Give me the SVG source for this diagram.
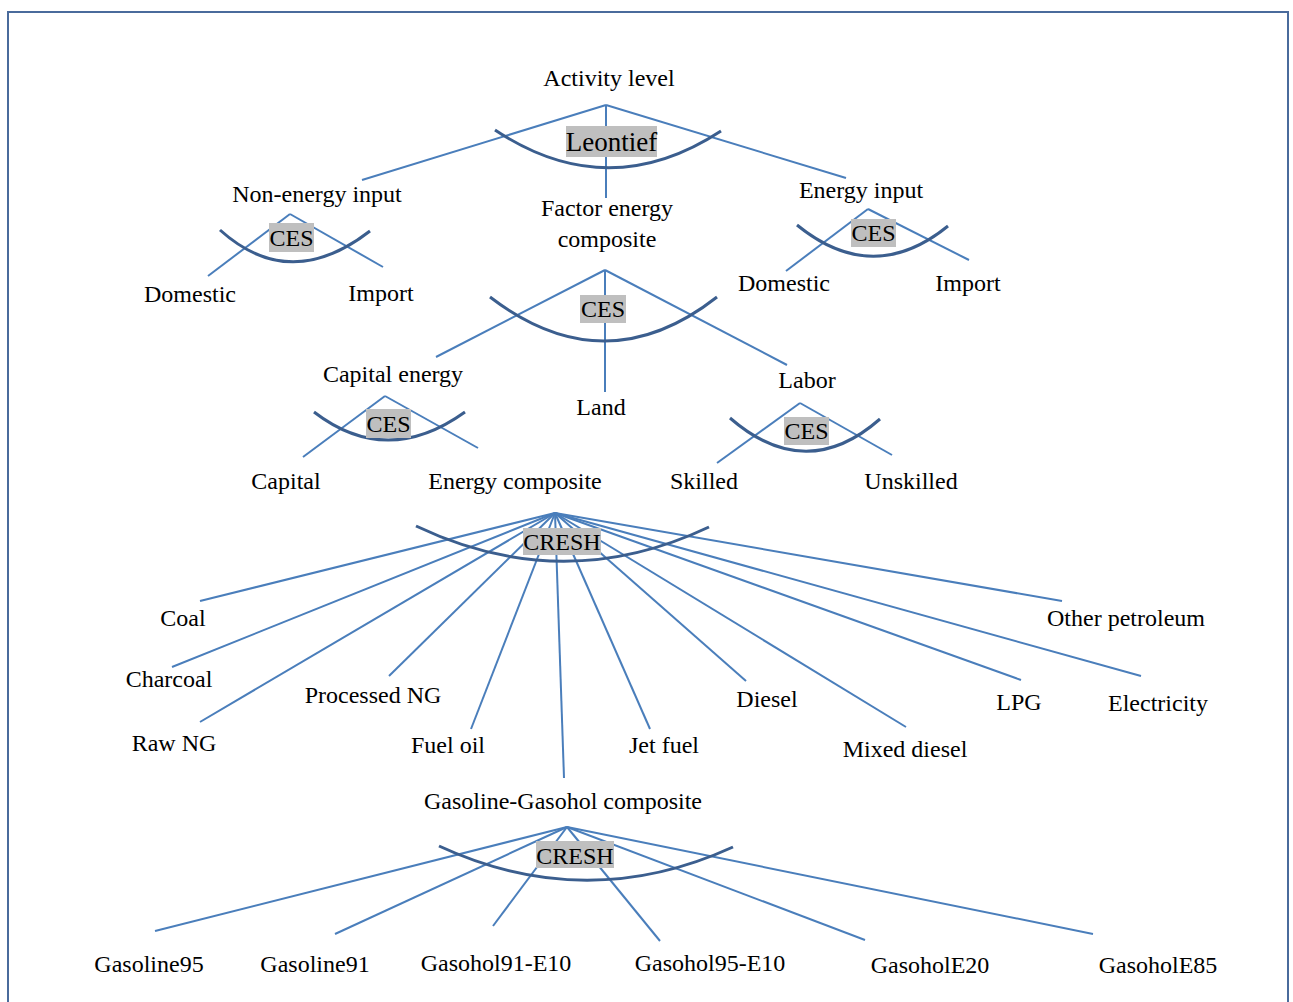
<svg xmlns="http://www.w3.org/2000/svg" width="1293" height="1002" viewBox="0 0 1293 1002">
<style>
.t{font-family:"Liberation Serif","Times New Roman",serif;font-size:24px;fill:#000;text-anchor:middle}
.big{font-size:27px}
.ln{stroke:#4a7ebb;stroke-width:2;fill:none}
.cv{stroke:#3b5e8e;stroke-width:3;fill:none}
.hl{fill:#bfbfbf}
</style>
<rect x="0" y="0" width="1293" height="1002" fill="#fff"/>
<rect x="8" y="12" width="1280" height="1000" fill="none" stroke="#4a6b9c" stroke-width="2"/>

<g id="connectors">
  <!-- Leontief -->
  <line class="ln" x1="606" y1="105" x2="362" y2="180"/>
  <line class="ln" x1="606" y1="105" x2="846" y2="178"/>
  <line class="ln" x1="606" y1="105" x2="606" y2="198"/>
  <!-- Non-energy CES -->
  <line class="ln" x1="290" y1="214" x2="208" y2="276"/>
  <line class="ln" x1="290" y1="214" x2="383" y2="267"/>
  <!-- Energy input CES -->
  <line class="ln" x1="868" y1="209" x2="786" y2="271"/>
  <line class="ln" x1="868" y1="209" x2="969" y2="260"/>
  <!-- Factor energy composite CES -->
  <line class="ln" x1="605" y1="270" x2="436" y2="357"/>
  <line class="ln" x1="605" y1="270" x2="787" y2="365"/>
  <line class="ln" x1="605" y1="270" x2="605" y2="392"/>
  <!-- Capital energy CES -->
  <line class="ln" x1="385" y1="396" x2="303" y2="457"/>
  <line class="ln" x1="385" y1="396" x2="478" y2="448"/>
  <!-- Labor CES -->
  <line class="ln" x1="800" y1="403" x2="717" y2="463"/>
  <line class="ln" x1="800" y1="403" x2="892" y2="455"/>
  <!-- Energy composite CRESH -->
  <line class="ln" x1="555" y1="513" x2="200" y2="601"/>
  <line class="ln" x1="555" y1="513" x2="172" y2="667"/>
  <line class="ln" x1="555" y1="513" x2="200" y2="722"/>
  <line class="ln" x1="555" y1="513" x2="389" y2="676"/>
  <line class="ln" x1="555" y1="513" x2="471" y2="729"/>
  <line class="ln" x1="555" y1="513" x2="564" y2="778"/>
  <line class="ln" x1="555" y1="513" x2="650" y2="729"/>
  <line class="ln" x1="555" y1="513" x2="746" y2="681"/>
  <line class="ln" x1="555" y1="513" x2="906" y2="727"/>
  <line class="ln" x1="555" y1="513" x2="1021" y2="680"/>
  <line class="ln" x1="555" y1="513" x2="1141" y2="676"/>
  <line class="ln" x1="555" y1="513" x2="1062" y2="601"/>
  <!-- Gasoline-Gasohol CRESH -->
  <line class="ln" x1="567" y1="827" x2="155" y2="931"/>
  <line class="ln" x1="567" y1="827" x2="335" y2="934"/>
  <line class="ln" x1="567" y1="827" x2="493" y2="926"/>
  <line class="ln" x1="567" y1="827" x2="660" y2="941"/>
  <line class="ln" x1="567" y1="827" x2="865" y2="940"/>
  <line class="ln" x1="567" y1="827" x2="1093" y2="934"/>
</g>

<g id="activity-level">
  <text class="t" x="609" y="86">Activity level</text>
  <path class="cv" d="M495,130 Q608,205 721,131"/>
  <rect class="hl" x="566" y="126" width="91" height="31"/>
  <text class="t big" x="611.5" y="151">Leontief</text>
</g>

<g id="non-energy-input">
  <text class="t" x="317" y="202">Non-energy input</text>
  <path class="cv" d="M220,230 Q290,293 370,231"/>
  <rect class="hl" x="269" y="223" width="45" height="29"/>
  <text class="t" x="291.5" y="246">CES</text>
</g>
<g id="domestic-1"><text class="t" x="190" y="302">Domestic</text></g>
<g id="import-1"><text class="t" x="381" y="301">Import</text></g>

<g id="factor-energy-composite">
  <text class="t" x="607" y="216">Factor energy</text>
  <text class="t" x="607" y="247">composite</text>
  <path class="cv" d="M490,297 Q605,385 717,297"/>
  <rect class="hl" x="580" y="295" width="46" height="28"/>
  <text class="t" x="603" y="317">CES</text>
</g>

<g id="energy-input">
  <text class="t" x="861" y="198">Energy input</text>
  <path class="cv" d="M797,225 Q873,287 948,226"/>
  <rect class="hl" x="851" y="219" width="45" height="28"/>
  <text class="t" x="873.5" y="241">CES</text>
</g>
<g id="domestic-2"><text class="t" x="784" y="291">Domestic</text></g>
<g id="import-2"><text class="t" x="968" y="291">Import</text></g>

<g id="capital-energy">
  <text class="t" x="393" y="382">Capital energy</text>
  <path class="cv" d="M314,412 Q387,468 465,412"/>
  <rect class="hl" x="366" y="409" width="45" height="29"/>
  <text class="t" x="388.5" y="432">CES</text>
</g>
<g id="land"><text class="t" x="601" y="415">Land</text></g>

<g id="labor">
  <text class="t" x="807" y="388">Labor</text>
  <path class="cv" d="M730,418 Q806,484 880,419"/>
  <rect class="hl" x="784" y="417" width="45" height="28"/>
  <text class="t" x="806.5" y="439">CES</text>
</g>
<g id="capital"><text class="t" x="286" y="489">Capital</text></g>
<g id="skilled"><text class="t" x="704" y="489">Skilled</text></g>
<g id="unskilled"><text class="t" x="911" y="489">Unskilled</text></g>

<g id="energy-composite">
  <text class="t" x="515" y="489">Energy composite</text>
  <path class="cv" d="M416,526 Q563,596 709,527"/>
  <rect class="hl" x="523" y="528" width="78" height="27"/>
  <text class="t" x="562" y="550">CRESH</text>
</g>

<g id="coal"><text class="t" x="183" y="626">Coal</text></g>
<g id="other-petroleum"><text class="t" x="1126" y="626">Other petroleum</text></g>
<g id="charcoal"><text class="t" x="169" y="687">Charcoal</text></g>
<g id="processed-ng"><text class="t" x="373" y="703">Processed NG</text></g>
<g id="diesel"><text class="t" x="767" y="707">Diesel</text></g>
<g id="lpg"><text class="t" x="1019" y="710">LPG</text></g>
<g id="electricity"><text class="t" x="1158" y="711">Electricity</text></g>
<g id="raw-ng"><text class="t" x="174" y="751">Raw NG</text></g>
<g id="fuel-oil"><text class="t" x="448" y="753">Fuel oil</text></g>
<g id="jet-fuel"><text class="t" x="664" y="753">Jet fuel</text></g>
<g id="mixed-diesel"><text class="t" x="905" y="757">Mixed diesel</text></g>

<g id="gasoline-gasohol-composite">
  <text class="t" x="563" y="809">Gasoline-Gasohol composite</text>
  <path class="cv" d="M439,846 Q586,914 733,847"/>
  <rect class="hl" x="536" y="841" width="78" height="27"/>
  <text class="t" x="575" y="864">CRESH</text>
</g>

<g id="gasoline95"><text class="t" x="149" y="972">Gasoline95</text></g>
<g id="gasoline91"><text class="t" x="315" y="972">Gasoline91</text></g>
<g id="gasohol91-e10"><text class="t" x="496" y="971">Gasohol91-E10</text></g>
<g id="gasohol95-e10"><text class="t" x="710" y="971">Gasohol95-E10</text></g>
<g id="gasohole20"><text class="t" x="930" y="973">GasoholE20</text></g>
<g id="gasohole85"><text class="t" x="1158" y="973">GasoholE85</text></g>
</svg>
